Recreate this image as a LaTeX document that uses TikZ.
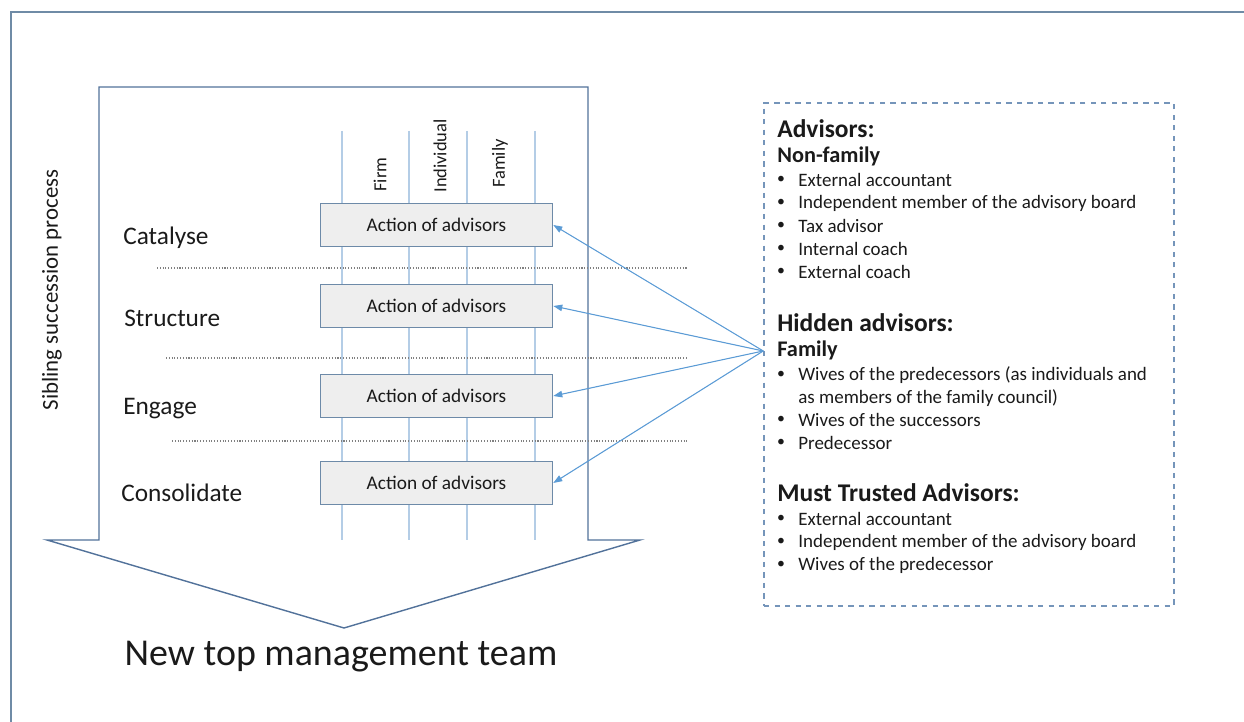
\documentclass[tikz,border=0pt]{standalone}
\usepackage{fontspec}
\setmainfont{Carlito}
\usepackage{xcolor}
\definecolor{cFrame}{HTML}{6F8BA6}
\definecolor{cBody}{HTML}{52729A}
\definecolor{cLane}{HTML}{B4CDE6}
\definecolor{cBox}{HTML}{6D8AA8}
\definecolor{cFill}{HTML}{EEEEEE}
\definecolor{cLink}{HTML}{5B9BD5}
\definecolor{cPanel}{HTML}{7595BA}
\definecolor{cDot}{HTML}{808080}
\definecolor{cText}{HTML}{1A1A1A}
\usepackage{tikz}
\usetikzlibrary{arrows.meta}
\tikzset{
  frame-line/.style={draw=cFrame,line width=1.2pt},
  flow-arrow/.style={draw=cBody,line width=0.8pt,line join=miter},
  lane/.style={draw=cLane,line width=0.7pt},
  stage-sep/.style={draw=cDot,densely dotted,line width=0.6pt},
  node-action/.style={draw=cBox,line width=0.9pt,fill=cFill,text=cText,
    minimum width=4.64cm,minimum height=0.86cm,inner sep=0pt,
    font=\fontsize{11}{13}\selectfont},
  node-stage/.style={anchor=west,text=cText,inner sep=0pt,
    font=\fontsize{14.4}{16}\selectfont},
  node-lane/.style={rotate=90,anchor=west,text=cText,inner sep=0pt,
    font=\fontsize{10.5}{12}\selectfont},
  node-panel/.style={draw=cPanel,dashed,line width=0.9pt,
    minimum width=8.2cm,minimum height=10.06cm,inner sep=0pt},
  panel-head/.style={anchor=west,text=cText,inner sep=0pt,
    font=\bfseries\fontsize{14.5}{16}\selectfont},
  panel-sub/.style={anchor=west,text=cText,inner sep=0pt,
    font=\bfseries\fontsize{12.7}{14}\selectfont},
  panel-item/.style={anchor=west,text=cText,inner sep=0pt,
    font=\fontsize{10.8}{12}\selectfont},
  panel-dot/.style={text=cText,inner sep=0pt,font=\fontsize{9}{11}\selectfont},
  arrow-link/.style={-{Triangle[length=1.8mm,width=1.3mm]},draw=cLink,
    fill=cLink,line width=0.6pt},
}

\begin{document}
\begin{tikzpicture}[x=0.02cm,y=-0.02cm]
  \useasboundingbox (0,0) rectangle (1244,722);
  % page frame
  \draw[frame-line] (11,722) |- (1244,12);

  % process arrow
  \draw[flow-arrow] (99,87) -- (588,87) -- (588,540) -- (640,540)
    -- (344,628) -- (47,540) -- (99,540) -- cycle;
  \node[rotate=90,text=cText,font=\fontsize{13}{15}\selectfont] (process)
    at (52,290) {Sibling succession process};
  \node[text=cText,font=\fontsize{21.6}{26}\selectfont] (team)
    at (341,657) {New top management team};

  % lanes
  \foreach \x in {342,409,467,535}
    \draw[lane] (\x,131) -- (\x,540);
  \node[node-lane] (firm) at (380,192) {Firm};
  \node[node-lane] (indiv) at (440,193) {Individual};
  \node[node-lane] (family) at (500,188) {Family};

  % stage separators
  \draw[stage-sep] (157,268) -- (687,268);
  \draw[stage-sep] (166,358) -- (687,358);
  \draw[stage-sep] (172,441) -- (687,441);

  % stages
  \foreach \y/\name/\x [count=\i] in {238/Catalyse/123,318/Structure/124,
      409/Engage/123,493/Consolidate/121}
    \node[node-stage] (stage-\i) at (\x,\y) {\name};
  \foreach \y [count=\i] in {225,306,396,483}
    \node[node-action] (act-\i) at (436.5,\y) {Action of advisors};

  % advisors panel
  \node[node-panel] (panel) at (969,354.5) {};
  \node[panel-head] (adv) at (777,129) {Advisors:};
  \node[panel-sub] (nonfam) at (777,156) {Non-family};
  \foreach \y/\txt [count=\i] in {180/External accountant,
      203/Independent member of the advisory board,226/Tax advisor,
      249/Internal coach,272/External coach} {
    \node[panel-dot] (nf-dot-\i) at (781,\y) {\textbullet};
    \node[panel-item] (nf-\i) at (798,\y) {\txt};
  }
  \node[panel-head] (hidden) at (777,323) {Hidden advisors:};
  \node[panel-sub] (fam) at (777,350) {Family};
  \foreach \y/\txt [count=\i] in {375/Wives of the predecessors (as individuals and,
      420/Wives of the successors,443/Predecessor} {
    \node[panel-dot] (fm-dot-\i) at (781,\y) {\textbullet};
    \node[panel-item] (fm-\i) at (798,\y) {\txt};
  }
  \node[panel-item] (fm-cont) at (798,398) {as members of the family council)};
  \node[panel-head] (trusted) at (777,493) {Must Trusted Advisors:};
  \foreach \y/\txt [count=\i] in {519/External accountant,
      542/Independent member of the advisory board,565/Wives of the predecessor} {
    \node[panel-dot] (tr-dot-\i) at (781,\y) {\textbullet};
    \node[panel-item] (tr-\i) at (798,\y) {\txt};
  }

  % links to each stage
  \foreach \i in {1,...,4}
    \draw[arrow-link] ([yshift=2pt]panel.west) -- (act-\i.east);
\end{tikzpicture}
\end{document}
